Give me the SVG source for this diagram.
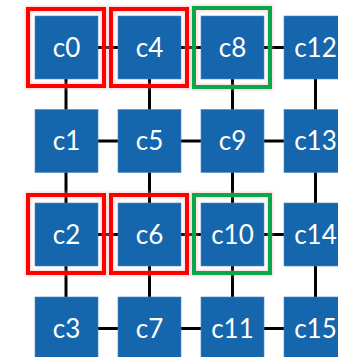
<svg xmlns="http://www.w3.org/2000/svg" width="338" height="357" viewBox="0 0 338 357">
  <defs>
    <style>
      .core { fill: #1566ad; stroke: #4f86c2; stroke-width: 0.6; }
      .lbl { font-family: Lato, "Liberation Sans", sans-serif; font-size: 26px; fill: #ffffff; text-anchor: middle; }
      .link { stroke: #000000; stroke-width: 3; fill: none; }
      .halo { fill: none; stroke: #f4a0a0; stroke-width: 7; opacity: 0.35; filter: url(#soft); }
      .red { fill: none; stroke: #ff0000; stroke-width: 4; }
      .green { fill: none; stroke: #0aa64a; stroke-width: 4; }
    </style>
    <filter id="soft" x="-10%" y="-10%" width="120%" height="120%">
      <feGaussianBlur stdDeviation="1.2"/>
    </filter>
  </defs>
  <rect width="338" height="357" fill="#ffffff"/>

  <!-- mesh links -->
  <g id="connectors">
    <path class="link" d="M66 47.5H316 M66 141H316 M66 234.5H316 M66 328.5H316"/>
    <path class="link" d="M66 47.5V357 M149.5 47.5V357 M232.5 47.5V357 M315.5 47.5V357"/>
  </g>

  <!-- cores -->
  <g id="c0"><rect class="core" x="35" y="16" width="63" height="63"/><text class="lbl" x="66.5" y="56.5">c0</text></g>
  <g id="c1"><rect class="core" x="35" y="109.5" width="63" height="63"/><text class="lbl" x="66.5" y="150">c1</text></g>
  <g id="c2"><rect class="core" x="35" y="203" width="63" height="63"/><text class="lbl" x="66.5" y="243.5">c2</text></g>
  <g id="c3"><rect class="core" x="35" y="297" width="63" height="63"/><text class="lbl" x="66.5" y="337.5">c3</text></g>

  <g id="c4"><rect class="core" x="118" y="16" width="63" height="63"/><text class="lbl" x="149.5" y="56.5">c4</text></g>
  <g id="c5"><rect class="core" x="118" y="109.5" width="63" height="63"/><text class="lbl" x="149.5" y="150">c5</text></g>
  <g id="c6"><rect class="core" x="118" y="203" width="63" height="63"/><text class="lbl" x="149.5" y="243.5">c6</text></g>
  <g id="c7"><rect class="core" x="118" y="297" width="63" height="63"/><text class="lbl" x="149.5" y="337.5">c7</text></g>

  <g id="c8"><rect class="core" x="201" y="16" width="63" height="63"/><text class="lbl" x="232.5" y="56.5">c8</text></g>
  <g id="c9"><rect class="core" x="201" y="109.5" width="63" height="63"/><text class="lbl" x="232.5" y="150">c9</text></g>
  <g id="c10"><rect class="core" x="201" y="203" width="63" height="63"/><text class="lbl" x="232.5" y="243.5">c10</text></g>
  <g id="c11"><rect class="core" x="201" y="297" width="63" height="63"/><text class="lbl" x="232.5" y="337.5">c11</text></g>

  <g id="c12"><rect class="core" x="284" y="16" width="63" height="63"/><text class="lbl" x="315.5" y="56.5">c12</text></g>
  <g id="c13"><rect class="core" x="284" y="109.5" width="63" height="63"/><text class="lbl" x="315.5" y="150">c13</text></g>
  <g id="c14"><rect class="core" x="284" y="203" width="63" height="63"/><text class="lbl" x="315.5" y="243.5">c14</text></g>
  <g id="c15"><rect class="core" x="284" y="297" width="63" height="63"/><text class="lbl" x="315.5" y="337.5">c15</text></g>

  <!-- highlight frames -->
  <g id="frames">
    <rect class="halo" x="28" y="9" width="76" height="77"/>
    <rect class="halo" x="111" y="9" width="76" height="77"/>
    <rect class="halo" x="194" y="8" width="76" height="79"/>
    <rect class="halo" x="28" y="195" width="76" height="78"/>
    <rect class="halo" x="111" y="195" width="76" height="78"/>
    <rect class="halo" x="194" y="195" width="76" height="78"/>
    <rect class="red" x="28" y="9" width="76" height="77"/>
    <rect class="red" x="111" y="9" width="76" height="77"/>
    <rect class="green" x="194" y="8" width="76" height="79"/>
    <rect class="red" x="28" y="195" width="76" height="78"/>
    <rect class="red" x="111" y="195" width="76" height="78"/>
    <rect class="green" x="194" y="195" width="76" height="78"/>
  </g>
</svg>
